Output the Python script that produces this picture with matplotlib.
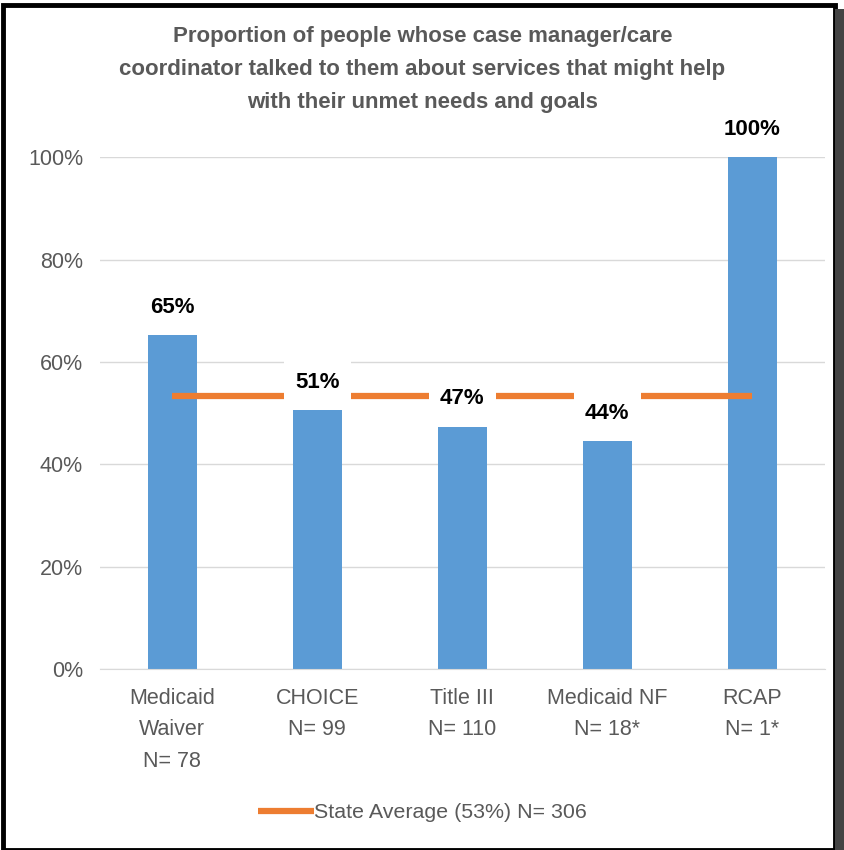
import numpy as np
import matplotlib.pyplot as plt
from matplotlib.patches import Rectangle

plt.rcParams['font.family'] = ['Liberation Sans', 'DejaVu Sans']

# data
categories = ['Medicaid\nWaiver\nN= 78', 'CHOICE\nN= 99', 'Title III\nN= 110',
              'Medicaid NF\nN= 18*', 'RCAP\nN= 1*']
values = [65.2, 50.6, 47.3, 44.5, 100]
labels = ['65%', '51%', '47%', '44%', '100%']
state_avg = 53.3
state_label = 'State Average (53%) N= 306'
title = ('Proportion of people whose case manager/care\n'
         'coordinator talked to them about services that might help\n'
         'with their unmet needs and goals')

blue = '#5B9BD5'
orange = '#ED7D31'
grey = '#595959'

fig = plt.figure(figsize=(8.45, 8.5), dpi=100)
ax = fig.add_axes([0.118, 0.213, 0.858, 0.602])

x = np.arange(len(categories))
ax.bar(x, values, width=0.34, color=blue, zorder=2)
line, = ax.plot(x, [state_avg]*len(x), color=orange, lw=4.5, zorder=3,
                solid_capstyle='butt', label=state_label)

# data labels, white box cuts the average line
for xi, v, lab in zip(x, values, labels):
    ax.annotate(lab, (xi, v), xytext=(0, 28), textcoords='offset pixels',
                ha='center', va='center', fontsize=16, fontweight='bold', color='black',
                bbox=dict(boxstyle='square,pad=0.5', fc='white', ec='none'), zorder=4)

ax.set_xlim(-0.5, len(x) - 0.5)
ax.set_ylim(0, 100)
ax.set_yticks(np.arange(0, 101, 20))
ax.set_yticklabels([f'{t}%' for t in range(0, 101, 20)])
ax.set_xticks(x)
ax.set_xticklabels(categories, linespacing=1.63)
ax.tick_params(length=0, labelsize=15.5, labelcolor=grey)
ax.tick_params(axis='y', pad=12)
ax.tick_params(axis='x', pad=14)
ax.grid(axis='y', color='#D9D9D9', lw=1, zorder=0)
for s in ['top', 'right', 'left']:
    ax.spines[s].set_visible(False)
ax.spines['bottom'].set_color('#D9D9D9')

fig.text(0.5, 0.918, title, ha='center', va='center', fontsize=16,
         fontweight='bold', color=grey, linespacing=1.75)

fig.legend(handles=[line], loc='center', bbox_to_anchor=(0.5, 0.044),
           frameon=False, fontsize=15.4, labelcolor=grey, handlelength=2.6,
           handletextpad=0.0)

# frame with shadow
fig.patches.append(Rectangle((0.003, 0.0), 0.985, 0.994, transform=fig.transFigure,
                             fill=False, ec='black', lw=3.5))
fig.patches.append(Rectangle((0.988, 0.0), 0.012, 0.99, transform=fig.transFigure,
                             fc='#444444', ec='none'))

fig.savefig('out.png', dpi=100)
